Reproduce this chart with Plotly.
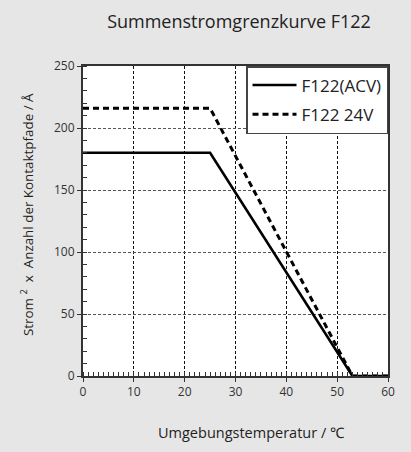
import plotly.graph_objects as go

# Data
temp_acv = [0, 25, 53, 60]
val_acv = [180, 180, 0, 0]
temp_24v = [0, 25, 53, 60]
val_24v = [216, 216, 0, 0]
x_ticks = [0, 10, 20, 30, 40, 50, 60]
y_ticks = [0, 50, 100, 150, 200, 250]

FONT = "Open Sans"

fig = go.Figure()
fig.add_trace(go.Scatter(x=temp_acv, y=val_acv, mode="lines", name="F122(ACV)",
                         legendgroup="a",
                         line=dict(color="black", width=2.6)))
fig.add_trace(go.Scatter(x=temp_24v, y=val_24v, mode="lines", name="F122 24V",
                         legendgroup="b",
                         line=dict(color="black", width=3, dash="6px,4px")))

fig.update_layout(
    width=411, height=452,
    margin=dict(l=83, r=23, t=66, b=76),
    paper_bgcolor="#e6e6e6",
    plot_bgcolor="white",
    font=dict(family=FONT, color="#222", size=12),
    title=dict(text="Summenstromgrenzkurve F122", x=239 / 411, xanchor="center",
               y=1 - 22 / 452, yanchor="middle", yref="container",
               font=dict(size=18, family=FONT, color="#222")),
    showlegend=True,
    legend=dict(x=1, xanchor="right", y=1, yanchor="top",
                bgcolor="white", bordercolor="#444", borderwidth=1.5,
                font=dict(size=17, family=FONT, color="#222"),
                itemwidth=44, tracegroupgap=4),
    annotations=[
        dict(text="Umgebungstemperatur / ℃", xref="paper", yref="paper",
             x=0.551, y=-56 / 310, xanchor="center", yanchor="middle",
             showarrow=False, font=dict(size=14.5, family=FONT, color="#222")),
        dict(text="Strom <sup>2</sup>  x  Anzahl der Kontaktpfade / Å",
             xref="paper", yref="paper", x=-56 / 305, y=0.519,
             xanchor="center", yanchor="middle", textangle=-90,
             showarrow=False, font=dict(size=13.4, family=FONT, color="#222")),
    ],
)

fig.update_xaxes(
    range=[0, 60], tickvals=x_ticks, ticks="outside", ticklen=4,
    tickcolor="#333", showline=True, linecolor="#333", linewidth=2, mirror=True,
    showgrid=True, gridcolor="#111", gridwidth=1, griddash="3px,2px",
    zeroline=False, tickfont=dict(size=12, color="#333"),
    minor=dict(dtick=1, ticks="inside", ticklen=4, tickcolor="#333", showgrid=False),
)
fig.update_yaxes(
    range=[0, 250], tickvals=y_ticks, ticks="outside", ticklen=4,
    tickcolor="#333", showline=True, linecolor="#333", linewidth=2, mirror=True,
    showgrid=True, gridcolor="#555", gridwidth=1, griddash="3px,2px",
    zeroline=False, tickfont=dict(size=12, color="#333"),
    minor=dict(dtick=10, ticks="inside", ticklen=4, tickcolor="#333", showgrid=False),
)

fig.write_html(
    "out.html",
    config={"displayModeBar": False},
    post_script="document.body.style.margin='0';document.body.style.background='#e6e6e6';",
)
